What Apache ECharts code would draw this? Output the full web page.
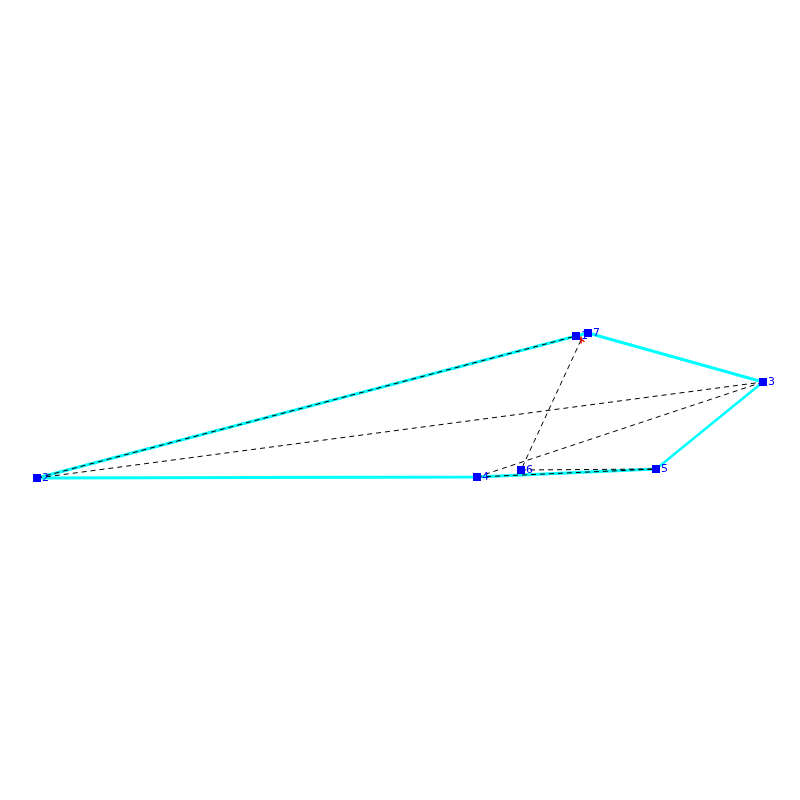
<!DOCTYPE html>
<html>
<head>
<meta charset="utf-8">
<script src="https://cdn.jsdelivr.net/npm/echarts@6/dist/echarts.min.js"></script>
<style>
html, body { margin: 0; padding: 0; background: #fff; }
#main { width: 800px; height: 800px; }
</style>
</head>
<body>
<div id="main"></div>
<script>
// node positions
var nodeNames = ['1', '2', '3', '4', '5', '6', '7'];
var nodeX = [576, 37, 763, 477, 656, 521, 588];
var nodeY = [336, 478, 382, 477, 469, 470, 333];

// the red mark near node 1
var crossX = [581];
var crossY = [340];

// cyan outline, as node names
var hull = ['5', '4', '2', '1', '7', '3'];
var hullThin = ['3', '5'];

// dashed links, 'x' is the red mark
var dashed = [
  ['2', '1'],
  ['2', '3'],
  ['3', '4'],
  ['x', '6'],
  ['4', '5'],
  ['6', '5']
];

function pt(name) {
  if (name === 'x') return [crossX[0], crossY[0]];
  var i = nodeNames.indexOf(name);
  return [nodeX[i], nodeY[i]];
}

var series = [];

series.push({
  type: 'line',
  data: hull.map(pt),
  symbol: 'none',
  silent: true,
  z: 2,
  lineStyle: { color: '#00ffff', width: 3, cap: 'butt' }
});
series.push({
  type: 'line',
  data: hullThin.map(pt),
  symbol: 'none',
  silent: true,
  z: 2,
  lineStyle: { color: '#00ffff', width: 2.5 }
});

dashed.forEach(function (path) {
  series.push({
    type: 'line',
    data: path.map(pt),
    symbol: 'none',
    silent: true,
    z: 3,
    lineStyle: { color: '#000', width: 1, type: [5, 4] }
  });
});

series.push({
  type: 'scatter',
  data: crossX.map(function (x, i) { return [x, crossY[i]]; }),
  symbol: 'path://M0 0L8 6M4 0L4 8',
  symbolSize: 7,
  z: 4,
  itemStyle: { color: 'transparent', borderColor: '#e00000', borderWidth: 1.5, opacity: 1 }
});

series.push({
  type: 'scatter',
  data: nodeNames.map(function (n, i) { return { name: n, value: [nodeX[i], nodeY[i]] }; }),
  symbol: 'rect',
  symbolSize: 8,
  z: 5,
  itemStyle: { color: '#0000ff', opacity: 1 },
  label: {
    show: true,
    position: 'right',
    distance: 1,
    formatter: '{b}',
    color: '#0000ff',
    fontFamily: 'DejaVu Sans',
    fontSize: 11
  }
});

var chart = echarts.init(document.getElementById('main'));
chart.setOption({
  animation: false,
  backgroundColor: '#fff',
  grid: { left: 0, right: 0, top: 0, bottom: 0 },
  xAxis: { type: 'value', min: 0, max: 800, show: false },
  yAxis: { type: 'value', min: 0, max: 800, inverse: true, show: false },
  series: series
});
</script>
</body>
</html>
